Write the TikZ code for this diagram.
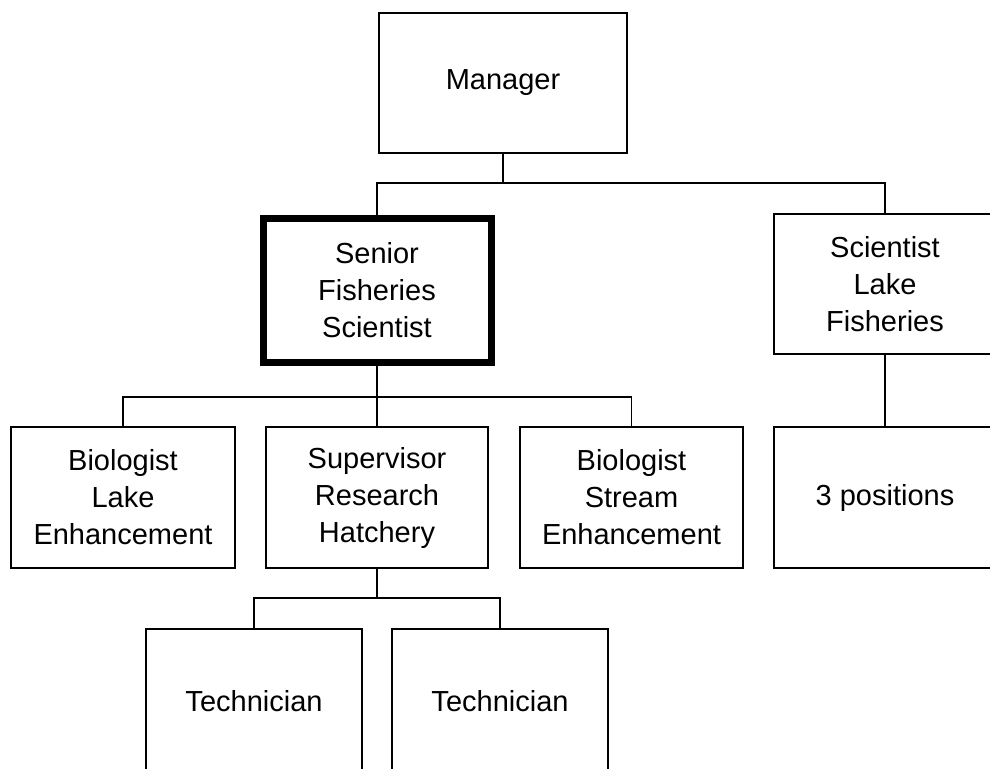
\documentclass[tikz,border=0pt]{standalone}
\usepackage{fontspec}
\setmainfont{Liberation Sans}
\usepackage{tikz}
\usetikzlibrary{positioning}

\begin{document}
\begin{tikzpicture}[
    x=1pt,
    y=-1pt,
    font=\fontsize{29}{37}\selectfont,
    post/.style={
		rectangle,
		draw=black,
		line width=1.6pt,
		align=center,
		inner sep=0pt,
		minimum width=222pt,
		minimum height=140pt,
		fill=white
	},
	headpost/.style={
		post,
		line width=7pt,
		minimum width=228pt,
		minimum height=144pt
	},
	link/.style={
		draw=black,
		line width=1.6pt
	}
  ]
\useasboundingbox (0,0) rectangle (990,768);
\clip (0,0) rectangle (990,768);

 % top level
 \node [post, minimum width=248pt] (manager) at (503,83) {Manager};

 % second level
 \node [headpost] (senior) at (377,290) {Senior\\Fisheries\\Scientist};
 \node [post] (lakesci) at (885,284) {Scientist\\Lake\\Fisheries};

 % third level
 \node [post, minimum width=224pt, minimum height=141pt] (biolake) at (123,497.5) {Biologist\\Lake\\Enhancement};
 \node [post, minimum height=141pt] (supervisor) at (377,497.5) {Supervisor\\Research\\Hatchery};
 \node [post, minimum width=223pt, minimum height=141pt] (biostream) at (631.5,497.5) {Biologist\\Stream\\Enhancement};
 \node [post, minimum height=141pt] (positions) at (885,497.5) {3 positions};

 % fourth level (cut off by the lower edge)
 \node [post, minimum width=216pt, minimum height=148pt] (tech1) at (254,703) {\raisebox{5pt}{Technician}};
 \node [post, minimum width=216pt, minimum height=148pt] (tech2) at (500,703) {\raisebox{5pt}{Technician}};

 % connectors
 \coordinate (bus1) at (503,183);
 \coordinate (bus2) at (377,397);
 \coordinate (bus3) at (377,598);

 \draw [link] (manager) -- (bus1);
 \draw [link] (senior.north) |- (bus1) -| (lakesci.north);

 \draw [link] (senior.south) -- (supervisor.north);
 \draw [link] (biolake.north) |- (bus2) -| (biostream.north);

 \draw [link] (lakesci) -- (positions);

 \draw [link] (supervisor) -- (bus3);
 \draw [link] (tech1.north) |- (bus3) -| (tech2.north);

\end{tikzpicture}
\end{document}
